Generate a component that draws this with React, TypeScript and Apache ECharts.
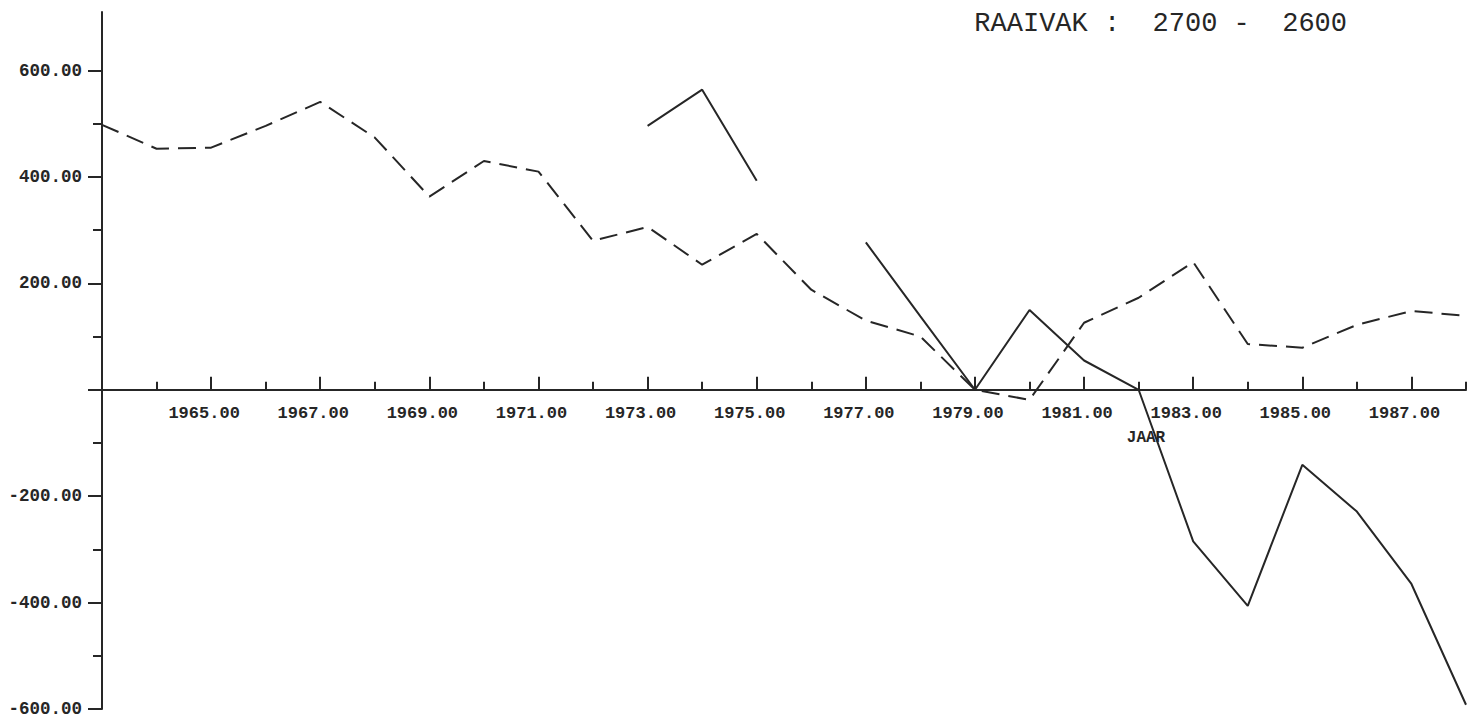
import React, { useEffect, useRef } from "react";
import * as echarts from "echarts";

const years = [1963, 1964, 1965, 1966, 1967, 1968, 1969, 1970, 1971, 1972, 1973, 1974, 1975, 1976, 1977, 1978, 1979, 1980, 1981, 1982, 1983, 1984, 1985, 1986, 1987, 1988];
const dashedValues = [498, 453, 455, 496, 541, 474, 363, 430, 410, 280, 306, 235, 293, 188, 130, 100, 0, -19, 126, 173, 240, 86, 79, 122, 148, 139];
const solidValues: (number | null)[] = [null, null, null, null, null, null, null, null, null, null, 496, 564, 393, null, 277, 138, 0, 150, 55, 0, -285, -406, -141, -229, -365, -592];

const xMajorTicks = [1965, 1967, 1969, 1971, 1973, 1975, 1977, 1979, 1981, 1983, 1985, 1987];
const xMinorTicks = [1964, 1966, 1968, 1970, 1972, 1974, 1976, 1978, 1980, 1982, 1984, 1986, 1988];
const yLabelTicks = [-600, -400, -200, 200, 400, 600];
const yMajorTicks = [-600, -400, -200, 0, 200, 400, 600];
const yMinorTicks = [-500, -300, -100, 100, 300, 500];

const titleText = "RAAIVAK :  2700 -  2600";
const xName = "JAAR";

const ink = "#262626";
const font = "Liberation Mono";

const Y_MIN = -600;
const Y_MAX = 710;
const GRID_TOP = 12;
const GRID_BOTTOM = 19;
const CHART_H = 728;

export default function App() {
  const ref = useRef<HTMLDivElement>(null);
  useEffect(() => {
    if (!ref.current) return;
    const chart = echarts.init(ref.current, undefined, { renderer: "svg" });
    const dashedData = years.map((y, i) => [y, dashedValues[i]]);
    const solidData = years.map((y, i) => [y, solidValues[i]]);
    const gridH = CHART_H - GRID_TOP - GRID_BOTTOM;
    // distance from the grid's bottom edge up to the value 0
    const zeroOffset = -(gridH * (0 - Y_MIN)) / (Y_MAX - Y_MIN);
    chart.setOption({
      animation: false,
      backgroundColor: "#ffffff",
      title: {
        text: titleText,
        right: 130,
        top: 5,
        textStyle: { fontFamily: font, fontSize: 27, fontWeight: "normal", color: ink },
      },
      grid: { left: 102, right: 16, top: GRID_TOP, bottom: GRID_BOTTOM, containLabel: false, outerBoundsMode: "none" },
      xAxis: [
        {
          type: "value",
          min: 1963,
          max: 1988,
          position: "bottom",
          offset: zeroOffset,
          name: xName,
          nameLocation: "middle",
          nameGap: 40,
          nameTextStyle: {
            fontFamily: font,
            fontSize: 16,
            fontWeight: "bold",
            color: ink,
            padding: [0, 0, 0, 724],
          },
          axisLine: { show: true, onZero: false, lineStyle: { color: ink, width: 2 } },
          axisTick: { show: true, inside: true, length: 13, customValues: xMajorTicks, lineStyle: { color: ink, width: 2 } },
          axisLabel: {
            show: true,
            customValues: xMajorTicks,
            margin: 15,
            fontFamily: font,
            fontSize: 17,
            fontWeight: "bold",
            color: ink,
            padding: [0, 14, 0, 0],
            formatter: (v: number) => v.toFixed(2),
          },
          splitLine: { show: false },
        },
        {
          type: "value",
          min: 1963,
          max: 1988,
          position: "bottom",
          offset: zeroOffset,
          axisLine: { show: false, onZero: false },
          axisTick: { show: true, inside: true, length: 8, customValues: xMinorTicks, lineStyle: { color: ink, width: 2 } },
          axisLabel: { show: false },
          splitLine: { show: false },
        },
      ],
      yAxis: [
        {
          type: "value",
          min: Y_MIN,
          max: Y_MAX,
          position: "left",
          axisLine: { show: true, onZero: false, lineStyle: { color: ink, width: 2 } },
          axisTick: { show: true, inside: false, length: 14, customValues: yMajorTicks, lineStyle: { color: ink, width: 2 } },
          axisLabel: {
            show: true,
            customValues: yLabelTicks,
            margin: 20,
            fontFamily: font,
            fontSize: 17.5,
            fontWeight: "bold",
            color: ink,
            formatter: (v: number) => v.toFixed(2),
          },
          splitLine: { show: false },
        },
        {
          type: "value",
          min: Y_MIN,
          max: Y_MAX,
          position: "left",
          axisLine: { show: false, onZero: false },
          axisTick: { show: true, inside: false, length: 9, customValues: yMinorTicks, lineStyle: { color: ink, width: 2 } },
          axisLabel: { show: false },
          splitLine: { show: false },
        },
      ],
      series: [
        {
          type: "line",
          xAxisIndex: 0,
          yAxisIndex: 0,
          data: dashedData,
          showSymbol: false,
          symbol: "none",
          lineStyle: { color: ink, width: 2, type: [18, 9] },
          silent: true,
        },
        {
          type: "line",
          xAxisIndex: 0,
          yAxisIndex: 0,
          data: solidData,
          showSymbol: false,
          symbol: "none",
          connectNulls: false,
          lineStyle: { color: ink, width: 2, type: "solid" },
          silent: true,
        },
      ],
    });
    return () => chart.dispose();
  }, []);
  return <div ref={ref} style={{ width: 1482, height: 728, margin: -8 }} />;
}
